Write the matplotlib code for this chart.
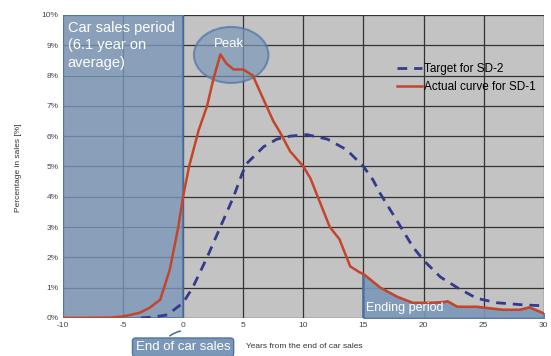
import numpy as np
import matplotlib.pyplot as plt
from matplotlib.patches import Ellipse, Rectangle

plt.rcParams['font.family'] = ['Liberation Sans', 'DejaVu Sans']
plt.rcParams['axes.unicode_minus'] = False

# Actual curve for SD-1 (red)
actual_x = [-10, -8, -6, -5, -4.5, -3.6, -2.8, -1.9, -1.1, -0.4, 0, 0.5, 1.3, 2.0, 2.5,
            3.1, 3.6, 4.2, 5.0, 5.8, 6.7, 7.5, 8.1, 8.9, 10, 10.6, 11.4, 12.2, 13.0,
            13.9, 14.7, 15.0, 16.4, 17.8, 19.1, 20.5, 21.6, 22.0, 22.8, 24.4, 26.6,
            28.0, 28.8, 30]
actual_y = [0, 0, 0.01, 0.05, 0.09, 0.17, 0.33, 0.6, 1.6, 3.0, 4.0, 5.0, 6.2, 7.0, 7.85,
            8.7, 8.4, 8.2, 8.2, 8.0, 7.2, 6.5, 6.1, 5.5, 5.0, 4.6, 3.8, 3.0, 2.6,
            1.7, 1.5, 1.45, 1.0, 0.7, 0.5, 0.5, 0.52, 0.55, 0.37, 0.37, 0.27,
            0.27, 0.35, 0.15]

# Target for SD-2 (dashed navy)
target_x = [-3.5, -2.7, -1.3, 0, 0.8, 2.0, 3.1, 4.2, 4.9, 5.3, 6.7, 7.8, 8.9, 10.3, 12,
            13.6, 15, 15.8, 16.4, 17.8, 19.1, 20, 21.4, 22.8, 24.4, 26.1, 28.3, 30]
target_y = [0, 0.02, 0.1, 0.5, 1.0, 2.0, 3.0, 4.0, 4.75, 5.1, 5.65, 5.9, 6.0, 6.05, 5.9,
            5.55, 5.0, 4.55, 4.1, 3.2, 2.35, 1.9, 1.35, 1.0, 0.65, 0.5, 0.43, 0.4]

x_ticks = [-10, -5, 0, 5, 10, 15, 20, 25, 30]
y_ticks = [0, 1, 2, 3, 4, 5, 6, 7, 8, 9, 10]
y_labels = [f"{v}%" for v in y_ticks]

red = '#c5452b'
navy = '#363a8a'
blue_fill = '#7b97b8'
blue_edge = '#4f73a6'

fig = plt.figure(figsize=(5.51, 3.56), dpi=100)
ax = fig.add_axes([0.114, 0.107, 0.873, 0.851])
ax.set_facecolor('#c3c3c3')
ax.set_xlim(-10, 30)
ax.set_ylim(0, 10)
ax.set_xticks(x_ticks)
ax.set_yticks(y_ticks)
ax.set_yticklabels(y_labels)
ax.tick_params(length=0, labelsize=6, colors='#444444', pad=3)
ax.grid(True, color='#333333', linewidth=0.9)
ax.set_axisbelow(True)
for s in ax.spines.values():
    s.set_visible(False)

# car sales period box
ax.add_patch(Rectangle((-10, 0), 10, 10, facecolor=blue_fill, edgecolor=blue_edge,
                       linewidth=1.5, alpha=0.8, zorder=2))
ax.text(-9.6, 9.8, "Car sales period\n(6.1 year on\naverage)", color='white',
        fontsize=10.5, va='top', ha='left', linespacing=1.3, zorder=5)

# ending period fill
ax_x = np.array(actual_x)
ax_y = np.array(actual_y)
m = ax_x >= 15
ax.fill_between(ax_x[m], 0, ax_y[m], facecolor=blue_fill, edgecolor=blue_edge,
                linewidth=1.2, alpha=0.9, zorder=2)
ax.plot([15, 15], [0, 1.45], color=blue_edge, lw=1.2, zorder=2)
ax.text(15.2, 0.22, "Ending period", color='white', fontsize=9, zorder=5)

ax.plot(target_x, target_y, color=navy, lw=2, ls=(0, (3.5, 2.5)), zorder=4,
        label='Target for SD-2')
ax.plot(actual_x, actual_y, color=red, lw=1.8, zorder=4, label='Actual curve for SD-1')

# peak ellipse
ax.add_patch(Ellipse((4.0, 8.68), 6.2, 1.85, facecolor=blue_fill, edgecolor=blue_edge,
                     linewidth=1.5, alpha=0.7, zorder=3))
ax.text(3.8, 9.05, "Peak", color='white', fontsize=9.5, ha='center', va='center', zorder=5)

leg = ax.legend(loc='upper left', bbox_to_anchor=(0.695, 0.84), frameon=False,
                fontsize=8.5, handlelength=2.1, handletextpad=0.2, borderpad=0,
                borderaxespad=0, labelspacing=0.45)

# end of car sales label
ax.annotate("End of car sales", xy=(0, -0.42), xytext=(0, -0.97),
            textcoords='data', annotation_clip=False, ha='center', va='center',
            color='white', fontsize=9.5,
            bbox=dict(boxstyle='round,pad=0.25', facecolor='#7b97b8', edgecolor=blue_edge),
            arrowprops=dict(arrowstyle='-', color=blue_edge, lw=1.2, relpos=(0.3, 1.0),
                            connectionstyle='arc3,rad=-0.2'))

fig.text(0.446, 0.022, "Years from the end of car sales", fontsize=6, color='#333333')
fig.text(0.033, 0.53, "Percentage in sales [%]", fontsize=6, color='#333333',
         rotation=90, va='center', ha='center')

fig.savefig('out.png', dpi=100)
